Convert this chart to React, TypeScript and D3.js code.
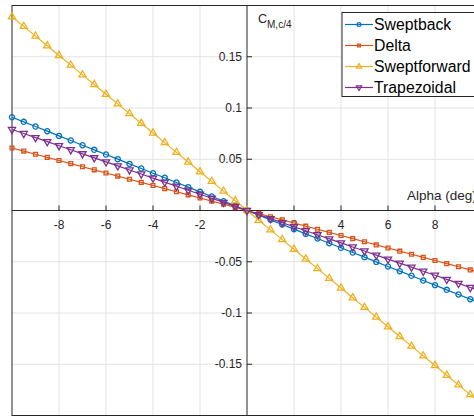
import React from 'react'
import * as d3 from 'd3'

// angle of attack (deg)
const alpha = [-10, -9.5, -9, -8.5, -8, -7.5, -7, -6.5, -6, -5.5, -5, -4.5, -4, -3.5, -3, -2.5, -2, -1.5, -1, -0.5,
  0, 0.5, 1, 1.5, 2, 2.5, 3, 3.5, 4, 4.5, 5, 5.5, 6, 6.5, 7, 7.5, 8, 8.5, 9, 9.5, 10]

const sweptback = [0.0910, 0.0865, 0.0819, 0.0774, 0.0728, 0.0683, 0.0637, 0.0592, 0.0546, 0.0501, 0.0455, 0.0410,
  0.0364, 0.0319, 0.0273, 0.0228, 0.0182, 0.0137, 0.0091, 0.0046, 0, -0.0046, -0.0091, -0.0137, -0.0182, -0.0228,
  -0.0273, -0.0319, -0.0364, -0.0410, -0.0455, -0.0501, -0.0546, -0.0592, -0.0637, -0.0683, -0.0728, -0.0774,
  -0.0819, -0.0865, -0.0910]

const delta = [0.0610, 0.0580, 0.0549, 0.0519, 0.0488, 0.0458, 0.0427, 0.0397, 0.0366, 0.0336, 0.0305, 0.0275,
  0.0244, 0.0214, 0.0183, 0.0153, 0.0122, 0.0092, 0.0061, 0.0031, 0, -0.0031, -0.0061, -0.0092, -0.0122, -0.0153,
  -0.0183, -0.0214, -0.0244, -0.0275, -0.0305, -0.0336, -0.0366, -0.0397, -0.0427, -0.0458, -0.0488, -0.0519,
  -0.0549, -0.0580, -0.0610]

const sweptforward = [0.1890, 0.1796, 0.1701, 0.1607, 0.1512, 0.1418, 0.1323, 0.1229, 0.1134, 0.1040, 0.0945,
  0.0851, 0.0756, 0.0662, 0.0567, 0.0473, 0.0378, 0.0284, 0.0189, 0.0095, 0, -0.0095, -0.0189, -0.0284, -0.0378,
  -0.0473, -0.0567, -0.0662, -0.0756, -0.0851, -0.0945, -0.1040, -0.1134, -0.1229, -0.1323, -0.1418, -0.1512,
  -0.1607, -0.1701, -0.1796, -0.1890]

const trapezoidal = [0.0790, 0.0751, 0.0711, 0.0672, 0.0632, 0.0593, 0.0553, 0.0514, 0.0474, 0.0435, 0.0395,
  0.0356, 0.0316, 0.0277, 0.0237, 0.0198, 0.0158, 0.0119, 0.0079, 0.0040, 0, -0.0040, -0.0079, -0.0119, -0.0158,
  -0.0198, -0.0237, -0.0277, -0.0316, -0.0356, -0.0395, -0.0435, -0.0474, -0.0514, -0.0553, -0.0593, -0.0632,
  -0.0672, -0.0711, -0.0751, -0.0790]

const xTicks = [-8, -6, -4, -2, 2, 4, 6, 8]
const yTicks = [-0.15, -0.1, -0.05, 0.05, 0.1, 0.15]

const series = [
  { name: 'Sweptback', values: sweptback, color: '#0072BD', marker: 'circle' },
  { name: 'Delta', values: delta, color: '#D95319', marker: 'square' },
  { name: 'Sweptforward', values: sweptforward, color: '#EDB120', marker: 'up' },
  { name: 'Trapezoidal', values: trapezoidal, color: '#7E2F8E', marker: 'down' },
]

const W = 474
const H = 416
const font = '"Liberation Sans", Arial, Helvetica, sans-serif'

function markerPath(kind: string, scale = 1) {
  if (kind === 'circle') return d3.symbol(d3.symbolCircle, 21 * scale)()
  if (kind === 'square') return d3.symbol(d3.symbolSquare, 15 * scale)()
  return d3.symbol(d3.symbolTriangle, 22 * scale)()
}

export default function App() {
  const x = d3.scaleLinear().domain([-10, 10]).range([12, 482])
  const y = d3.scaleLinear().domain([-0.2, 0.2]).range([415.5, 5.5])

  const line = d3.line<number>()
    .x((d, i) => x(alpha[i]))
    .y(d => y(d))

  const gridColor = '#e3e3e3'
  const axisColor = '#262626'

  return (
    <svg width={W} height={H} style={{ position: 'fixed', left: 0, top: 0, background: '#fff' }}
      fontFamily={font}>
      <rect x={0} y={0} width={W} height={H} fill="#fff" />
      {/* grid */}
      {xTicks.map(t => (
        <line key={'gx' + t} x1={x(t)} x2={x(t)} y1={y(0.2)} y2={y(-0.2)} stroke={gridColor} strokeWidth={1} />
      ))}
      {yTicks.map(t => (
        <line key={'gy' + t} x1={x(-10)} x2={x(10)} y1={y(t)} y2={y(t)} stroke={gridColor} strokeWidth={1} />
      ))}
      {/* box */}
      <rect x={x(-10)} y={y(0.2)} width={x(10) - x(-10)} height={y(-0.2) - y(0.2)} fill="none"
        stroke={axisColor} strokeWidth={1} />
      {/* origin axes */}
      <line x1={x(-10)} x2={x(10)} y1={y(0)} y2={y(0)} stroke={axisColor} strokeWidth={1} />
      <line x1={x(0)} x2={x(0)} y1={y(0.2)} y2={y(-0.2)} stroke={axisColor} strokeWidth={1} />
      {xTicks.map(t => (
        <g key={'tx' + t}>
          <line x1={x(t)} x2={x(t)} y1={y(0)} y2={y(0) - 5} stroke={axisColor} />
          <text x={x(t)} y={y(0) + 18} textAnchor="middle" fontSize={12} fill={axisColor}>{t}</text>
        </g>
      ))}
      {yTicks.map(t => (
        <g key={'ty' + t}>
          <line x1={x(0)} x2={x(0) + 5} y1={y(t)} y2={y(t)} stroke={axisColor} />
          <text x={x(0) - 5} y={y(t) + 4} textAnchor="end" fontSize={12} fill={axisColor}>{t}</text>
        </g>
      ))}
      {/* labels */}
      <text x={407} y={200} fontSize={13.5} fill={axisColor}>Alpha (deg)</text>
      <text x={258} y={22.5} fontSize={12.5} fill={axisColor}>C
        <tspan fontSize={10} dy={5}>M,c/4</tspan>
      </text>
      {/* series */}
      {series.map(s => (
        <g key={s.name}>
          <path d={line(s.values) || ''} fill="none" stroke={s.color} strokeWidth={1.2} />
          {s.values.map((v, i) => (
            <path key={i} d={markerPath(s.marker) || ''}
              transform={`translate(${x(alpha[i])},${y(v)})${s.marker === 'down' ? ' rotate(180)' : ''}`}
              fill="none" stroke={s.color} strokeWidth={1.3} />
          ))}
        </g>
      ))}
      {/* legend */}
      <g transform="translate(342,12.5)">
        <rect x={0} y={0} width={140} height={84} fill="#fff" stroke={axisColor} strokeWidth={1} />
        {series.map((s, i) => (
          <g key={s.name} transform={`translate(0,${12 + i * 21})`}>
            <line x1={3} x2={31} y1={0} y2={0} stroke={s.color} strokeWidth={1.2} />
            <path d={markerPath(s.marker, 0.55) || ''}
              transform={`translate(17,0)${s.marker === 'down' ? ' rotate(180)' : ''}`}
              fill="none" stroke={s.color} strokeWidth={1.2} />
            <text x={32} y={5.5} fontSize={15.8} fill="#000">{s.name}</text>
          </g>
        ))}
      </g>
    </svg>
  )
}
